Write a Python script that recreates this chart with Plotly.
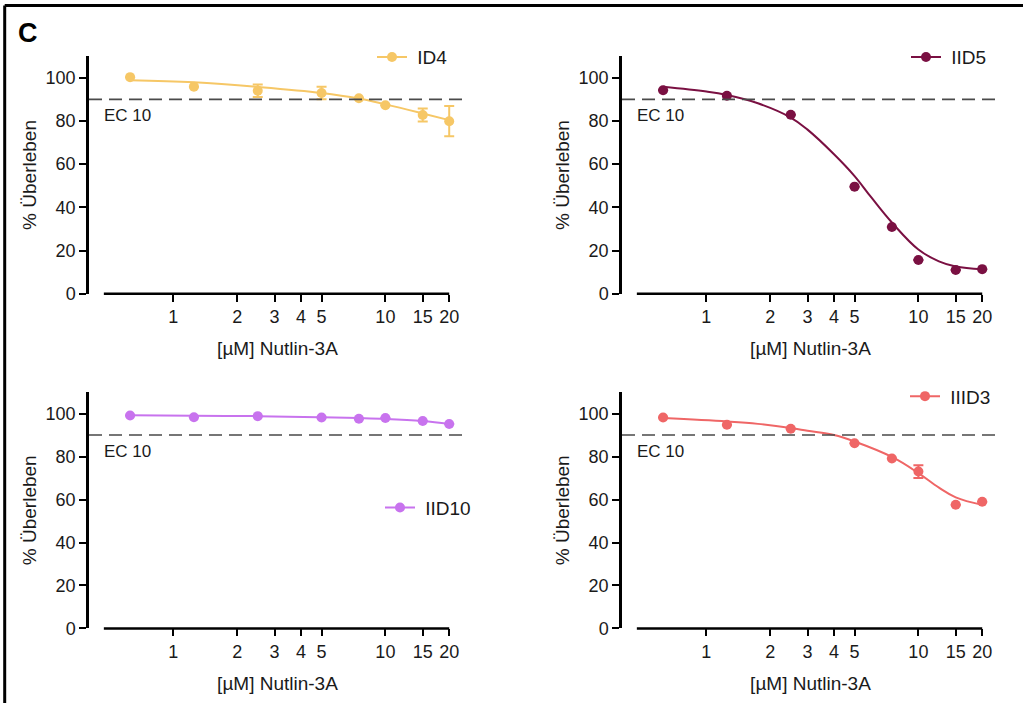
import numpy as np
import plotly.graph_objects as go

# Nutlin-3A concentrations (µM) and axis ticks
doses = [0.625, 1.25, 2.5, 5, 7.5, 10, 15, 20]
x_ticks = [1, 2, 3, 4, 5, 10, 15, 20]
x_ticklabels = ["1", "2", "3", "4", "5", "10", "15", "20"]
y_ticks = [0, 20, 40, 60, 80, 100]
ec10_level = 90
x_axis_start = 0.47
x_axis_end = 20

# ID4
id4_mean = [100.3, 95.9, 94.0, 93.0, 90.5, 87.3, 82.8, 79.9]
id4_sd = [None, None, 2.9, 2.9, None, None, 3.0, 7.0]
id4_fit_x = [0.625, 1.25, 2.5, 5, 7.5, 10, 15, 20]
id4_fit_y = [98.9, 97.9, 95.8, 93.0, 90.4, 87.7, 83.5, 80.4]

# IID5
iid5_mean = [94.2, 91.7, 82.9, 49.6, 30.9, 15.6, 11.0, 11.4]
iid5_sd = [None] * 8
iid5_fit_x = [0.625, 1.0, 1.25, 1.75, 2.5, 3, 4, 5, 6, 7.5, 10, 12.5, 15, 20]
iid5_fit_y = [95.8, 93.6, 92.0, 88.2, 81.6, 76.0, 64.6, 54.5, 44.6, 33.0, 20.5, 15.0, 12.6, 11.3]

# IID10
iid10_mean = [99.1, 98.3, 98.8, 98.2, 97.6, 97.9, 96.5, 95.1]
iid10_sd = [None] * 8
iid10_fit_x = [0.625, 1.25, 2.5, 5, 7.5, 10, 15, 20]
iid10_fit_y = [99.2, 99.0, 98.8, 98.3, 97.9, 97.5, 96.5, 95.2]

# IIID3
iiid3_mean = [98.2, 94.8, 92.9, 86.2, 79.1, 73.0, 57.6, 59.0]
iiid3_sd = [None, None, None, None, None, 3.0, None, None]
iiid3_fit_x = [0.625, 1.25, 1.75, 2.5, 3, 4, 5, 7.5, 10, 12.5, 15, 20]
iiid3_fit_y = [97.9, 96.3, 95.2, 93.3, 92.0, 90.0, 87.0, 79.8, 72.3, 65.5, 61.0, 57.5]

FONT = "Liberation Sans, Arial, sans-serif"
W, H = 1023, 706

panels = [
    dict(name="ID4", color="#F6C766", mean=id4_mean, sd=id4_sd, fx=id4_fit_x, fy=id4_fit_y,
         xdom=[89 / W, 466 / W], ydom=[1 - 298 / H, 1 - 57 / H], leg=(372, 58)),
    dict(name="IID5", color="#7A1042", mean=iid5_mean, sd=iid5_sd, fx=iid5_fit_x, fy=iid5_fit_y,
         xdom=[622 / W, 999 / W], ydom=[1 - 298 / H, 1 - 57 / H], leg=(906, 58)),
    dict(name="IID10", color="#C873EE", mean=iid10_mean, sd=iid10_sd, fx=iid10_fit_x, fy=iid10_fit_y,
         xdom=[89 / W, 466 / W], ydom=[1 - 637.5 / H, 1 - 397.7 / H], leg=(380, 515)),
    dict(name="IIID3", color="#EF6666", mean=iiid3_mean, sd=iiid3_sd, fx=iiid3_fit_x, fy=iiid3_fit_y,
         xdom=[622 / W, 999 / W], ydom=[1 - 637.5 / H, 1 - 397.7 / H], leg=(905, 402)),
]

fig = go.Figure()
layout = dict(
    width=W, height=H, margin=dict(l=0, r=0, t=0, b=0),
    paper_bgcolor="white", plot_bgcolor="white",
    font=dict(family=FONT, color="#1a1a1a"),
    showlegend=True,
)
shapes = []
annotations = []

for i, p in enumerate(panels, start=1):
    sfx = "" if i == 1 else str(i)
    xa, ya = "x" + sfx, "y" + sfx
    leg = "legend" + sfx

    # fitted dose-response curve
    fig.add_trace(go.Scatter(
        x=p["fx"], y=p["fy"], xaxis=xa, yaxis=ya, mode="lines",
        line=dict(color=p["color"], width=2, shape="spline", smoothing=1.1),
        showlegend=False, hoverinfo="skip",
    ))
    # measured means with error bars
    fig.add_trace(go.Scatter(
        x=doses, y=p["mean"], xaxis=xa, yaxis=ya, mode="markers",
        marker=dict(color=p["color"], size=10),
        error_y=dict(type="data", array=p["sd"], visible=True, color=p["color"],
                     thickness=2, width=5),
        showlegend=False, cliponaxis=False,
    ))
    # legend key
    fig.add_trace(go.Scatter(
        x=[None], y=[None], xaxis=xa, yaxis=ya, mode="lines+markers", name=" " + p["name"],
        line=dict(color=p["color"], width=2), marker=dict(color=p["color"], size=10),
        legend=leg,
    ))

    layout["xaxis" + sfx] = dict(
        type="log", domain=p["xdom"], anchor=ya,
        range=[np.log10(0.4), np.log10(24)],
        tickvals=x_ticks, ticktext=x_ticklabels,
        ticks="outside", ticklen=7, tickwidth=2, tickcolor="black",
        showline=False, showgrid=False, zeroline=False,
        tickfont=dict(size=18, family=FONT, color="#1a1a1a"),
        title=dict(text="[µM] Nutlin-3A", font=dict(size=19, family=FONT, color="#1a1a1a"),
                   standoff=15),
    )
    layout["yaxis" + sfx] = dict(
        domain=p["ydom"], anchor=xa, range=[0, 110],
        tickvals=y_ticks, ticks="outside", ticklen=7, tickwidth=2, tickcolor="black",
        showline=True, linewidth=2.5, linecolor="black",
        showgrid=False, zeroline=False,
        tickfont=dict(size=18, family=FONT, color="#1a1a1a"),
        title=dict(text="% Überleben", font=dict(size=19, family=FONT, color="#1a1a1a"),
                   standoff=4),
    )
    layout[leg] = dict(
        x=p["leg"][0] / W, y=1 - p["leg"][1] / H, xanchor="left", yanchor="middle",
        bgcolor="rgba(0,0,0,0)", borderwidth=0,
        font=dict(size=19, family=FONT, color="#1a1a1a"),
    )

    # x axis line drawn only over the dosed range
    shapes.append(dict(type="line", xref=xa, yref=ya + " domain",
                       x0=x_axis_start, x1=x_axis_end, y0=0, y1=0,
                       line=dict(color="black", width=2.5)))
    # EC10 threshold
    shapes.append(dict(type="line", xref=xa + " domain", yref=ya,
                       x0=0, x1=1, y0=ec10_level, y1=ec10_level,
                       line=dict(color="#4a4a4a", width=1.6, dash="13px,7px")))
    annotations.append(dict(text="EC 10", xref=xa + " domain", yref=ya,
                            x=0.034, y=ec10_level, xanchor="left", yanchor="top",
                            yshift=-5, showarrow=False,
                            font=dict(size=17, family=FONT, color="#1a1a1a")))

# panel letter
annotations.append(dict(text="<b>C</b>", xref="paper", yref="paper",
                        x=28 / W, y=1 - 33 / H, xanchor="center", yanchor="middle",
                        showarrow=False, font=dict(size=27, family=FONT, color="black")))

# figure frame (top and left edges)
shapes.append(dict(type="line", xref="paper", yref="paper",
                   x0=4.7 / W, x1=1.01, y0=1 - 5.5 / H, y1=1 - 5.5 / H,
                   line=dict(color="black", width=3)))
shapes.append(dict(type="line", xref="paper", yref="paper",
                   x0=4.7 / W, x1=4.7 / W, y0=-0.01, y1=1 - 5.5 / H,
                   line=dict(color="black", width=3)))

layout["shapes"] = shapes
layout["annotations"] = annotations
fig.update_layout(**layout)
fig.write_html("out.html")
